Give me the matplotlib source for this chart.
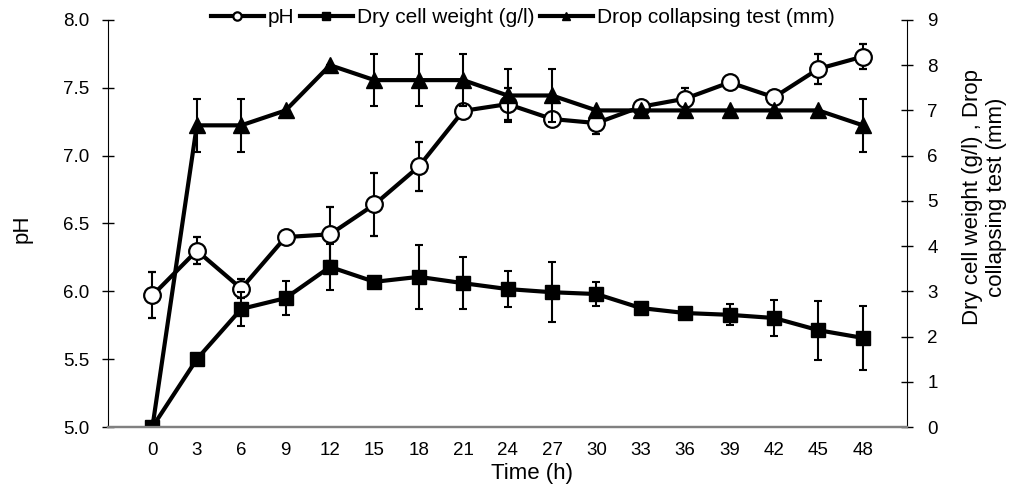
import matplotlib.pyplot as plt
import numpy as np

plt.rcParams['font.family'] = ['Liberation Sans', 'DejaVu Sans']

# Dados
time_h = [0, 3, 6, 9, 12, 15, 18, 21, 24, 27, 30, 33, 36, 39, 42, 45, 48]

ph = [5.97, 6.30, 6.02, 6.40, 6.42, 6.64, 6.92, 7.33, 7.38, 7.27, 7.24,
      7.36, 7.42, 7.54, 7.43, 7.64, 7.73]
ph_err = [0.17, 0.10, 0.07, 0.02, 0.20, 0.23, 0.18, 0.05, 0.12, 0.05, 0.08,
          0.03, 0.08, 0.05, 0.02, 0.11, 0.09]

dcw = [0.0, 1.50, 2.61, 2.85, 3.54, 3.21, 3.32, 3.18, 3.05, 2.98, 2.94,
       2.63, 2.52, 2.48, 2.41, 2.14, 1.97]
dcw_err = [0.0, 0.0, 0.38, 0.37, 0.50, 0.10, 0.70, 0.58, 0.40, 0.66, 0.26,
           0.0, 0.0, 0.23, 0.40, 0.65, 0.70]

drop = [0.0, 6.67, 6.67, 7.0, 8.0, 7.67, 7.67, 7.67, 7.33, 7.33, 7.0,
        7.0, 7.0, 7.0, 7.0, 7.0, 6.67]
drop_err = [0.0, 0.58, 0.58, 0.0, 0.0, 0.58, 0.58, 0.58, 0.58, 0.58, 0.0,
            0.0, 0.0, 0.0, 0.0, 0.0, 0.58]

x = np.arange(len(time_h))

fig = plt.figure(figsize=(10.24, 4.87), dpi=100)
ax1 = fig.add_axes([0.1055, 0.1232, 0.7805, 0.8358])
ax2 = ax1.twinx()

line_kw = dict(color='black', linewidth=3.0, ecolor='black', elinewidth=1.5,
               capsize=3, capthick=1.5)

h1 = ax1.errorbar(x, ph, yerr=ph_err, marker='o', markersize=12,
                  markerfacecolor='white', markeredgecolor='black',
                  markeredgewidth=1.6, label='pH', **line_kw)
h2 = ax2.errorbar(x, dcw, yerr=dcw_err, marker='s', markersize=10.5,
                  markerfacecolor='black', markeredgecolor='black',
                  label='Dry cell weight (g/l)', **line_kw)
h3 = ax2.errorbar(x, drop, yerr=drop_err, marker='^', markersize=12,
                  markerfacecolor='black', markeredgecolor='black',
                  label='Drop collapsing test (mm)', **line_kw)

ax1.set_xlim(-1, 17)
ax1.set_ylim(5.0, 8.0)
ax2.set_ylim(0, 9)
ax1.set_yticks(np.arange(5.0, 8.01, 0.5))
ax1.set_yticklabels([f"{v:.1f}" for v in np.arange(5.0, 8.01, 0.5)])
ax2.set_yticks(range(0, 10))
ax1.set_xticks(x)
ax1.set_xticklabels([str(t) for t in time_h])

for ax in (ax1, ax2):
    ax.spines['top'].set_visible(False)
    ax.spines['bottom'].set_color('#808080')
    ax.spines['bottom'].set_linewidth(1.6)
    ax.tick_params(axis='y', direction='inout', length=9, width=1,
                   labelsize=13.5)
    ax.tick_params(axis='x', length=0, labelsize=13.5, pad=11)
ax1.spines['right'].set_visible(False)
ax2.spines['left'].set_visible(False)
ax1.tick_params(axis='y', pad=9)
ax2.tick_params(axis='y', pad=10)

ax1.set_ylabel("pH", fontsize=16)
ax1.yaxis.set_label_coords(-0.094, 0.486)
ax2.set_ylabel("Dry cell weight (g/l) , Drop\ncollapsing test (mm)",
               fontsize=16, linespacing=1.15)
ax2.yaxis.set_label_coords(1.069, 0.565)
ax1.set_xlabel("Time (h)", fontsize=16)
ax1.xaxis.set_label_coords(0.531, -0.088)

leg = ax1.legend(handles=[h1[0], h2[0], h3[0]],
                 labels=['pH', 'Dry cell weight (g/l)',
                         'Drop collapsing test (mm)'],
                 loc='center', bbox_to_anchor=(0.519, 1.005), ncol=3,
                 frameon=False, fontsize=15, handlelength=2.55,
                 handletextpad=0.2, columnspacing=0.25, markerscale=0.5,
                 borderpad=0, borderaxespad=0)

fig.savefig("out.png", dpi=100)
